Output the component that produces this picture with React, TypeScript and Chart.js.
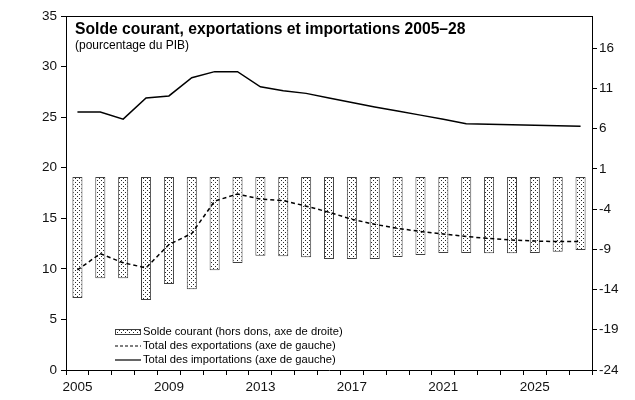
import React, { useEffect, useRef } from 'react';
import { Chart, registerables } from 'chart.js';

Chart.register(...registerables);

const years = ['2005', '2006', '2007', '2008', '2009', '2010', '2011', '2012', '2013', '2014', '2015', '2016', '2017', '2018', '2019', '2020', '2021', '2022', '2023', '2024', '2025', '2026', '2027'];
const xTickLabels = ['2005', '2009', '2013', '2017', '2021', '2025'];

const currentAccount = [-15.05, -12.6, -12.6, -15.3, -13.3, -13.95, -11.6, -10.7, -9.8, -9.85, -10.0, -10.2, -10.2, -10.2, -9.95, -9.7, -9.45, -9.45, -9.5, -9.5, -9.45, -9.3, -9.1];
const exportsData = [9.9, 11.5, 10.6, 10.1, 12.4, 13.5, 16.7, 17.4, 16.9, 16.75, 16.2, 15.6, 14.9, 14.4, 14.0, 13.7, 13.45, 13.2, 13.0, 12.85, 12.75, 12.7, 12.7];
const importsData = [25.5, 25.5, 24.8, 26.9, 27.1, 28.9, 29.5, 29.5, 28.0, 27.6, 27.35, 26.9, 26.45, 26.0, 25.6, 25.2, 24.8, 24.35, 24.3, 24.25, 24.2, 24.15, 24.1];

const leftTicks = [0, 5, 10, 15, 20, 25, 30, 35];
const rightTicks = [-24, -19, -14, -9, -4, 1, 6, 11, 16];

const titleText = 'Solde courant, exportations et importations 2005\u201328';
const subtitleText = '(pourcentage du PIB)';
const legendLabels = [
  'Solde courant (hors dons, axe de droite)',
  'Total des exportations (axe de gauche)',
  'Total des importations (axe de gauche)',
];

const FONT = '"Liberation Sans", Arial, sans-serif';

function makePattern(): CanvasPattern | string {
  const c = document.createElement('canvas');
  c.width = 4;
  c.height = 4;
  const g = c.getContext('2d');
  if (!g) return '#ddd';
  g.fillStyle = '#ffffff';
  g.fillRect(0, 0, 4, 4);
  g.fillStyle = '#2a2a2a';
  g.fillRect(1, 0, 1, 1);
  g.fillRect(3, 2, 1, 1);
  const p = g.createPattern(c, 'repeat');
  return p || '#ddd';
}

export default function App() {
  const ref = useRef<HTMLCanvasElement | null>(null);

  useEffect(() => {
    if (!ref.current) return;
    const pattern = makePattern();

    const overlay = {
      id: 'overlay',
      afterDatasetsDraw(chart: any) {
        const { ctx, chartArea: a } = chart;
        ctx.save();
        // top frame line
        ctx.strokeStyle = '#000';
        ctx.lineWidth = 1;
        ctx.beginPath();
        ctx.moveTo(a.left, Math.round(a.top) + 0.5);
        ctx.lineTo(a.right, Math.round(a.top) + 0.5);
        ctx.stroke();

        // title
        ctx.fillStyle = '#000';
        ctx.textBaseline = 'middle';
        ctx.textAlign = 'left';
        ctx.font = `bold 15.7px ${FONT}`;
        ctx.fillText(titleText, a.left + 9, a.top + 14);
        ctx.font = `12px ${FONT}`;
        ctx.fillText(subtitleText, a.left + 9, a.top + 30);

        // legend
        const lx = a.left + 49;
        const mw = 26;
        const rows = [a.bottom - 38, a.bottom - 24, a.bottom - 10];
        ctx.font = `11.2px ${FONT}`;
        // pattern box
        ctx.fillStyle = pattern as any;
        ctx.fillRect(lx, rows[0] - 3, mw, 6);
        ctx.strokeStyle = '#404040';
        ctx.lineWidth = 1;
        ctx.strokeRect(lx + 0.5, rows[0] - 2.5, mw - 1, 5);
        // dashed
        ctx.strokeStyle = '#000';
        ctx.lineWidth = 1.2;
        ctx.setLineDash([3, 2]);
        ctx.beginPath();
        ctx.moveTo(lx, rows[1]);
        ctx.lineTo(lx + mw, rows[1]);
        ctx.stroke();
        ctx.setLineDash([]);
        // solid
        ctx.beginPath();
        ctx.moveTo(lx, rows[2]);
        ctx.lineTo(lx + mw, rows[2]);
        ctx.stroke();
        ctx.fillStyle = '#000';
        legendLabels.forEach((t, i) => ctx.fillText(t, lx + mw + 2, rows[i]));
        ctx.restore();
      },
    };

    const chart = new Chart(ref.current, {
      type: 'bar',
      data: {
        labels: years,
        datasets: [
          {
            type: 'line',
            label: legendLabels[1],
            data: exportsData,
            yAxisID: 'y',
            borderColor: '#000',
            borderWidth: 1.5,
            borderDash: [4, 3],
            pointRadius: 0,
            tension: 0,
            fill: false,
            order: 1,
          } as any,
          {
            type: 'line',
            label: legendLabels[2],
            data: importsData,
            yAxisID: 'y',
            borderColor: '#000',
            borderWidth: 1.5,
            pointRadius: 0,
            tension: 0,
            fill: false,
            order: 1,
          } as any,
          {
            type: 'bar',
            label: legendLabels[0],
            data: currentAccount,
            yAxisID: 'y2',
            backgroundColor: pattern as any,
            borderColor: '#404040',
            borderWidth: 1,
            borderSkipped: false,
            barPercentage: 0.44,
            categoryPercentage: 1,
            order: 2,
          } as any,
        ],
      },
      options: {
        responsive: false,
        animation: false,
        layout: { padding: { top: 16, left: 0, right: 0, bottom: 0 } },
        plugins: {
          legend: { display: false },
          tooltip: { enabled: false },
          title: { display: false },
        },
        scales: {
          x: {
            type: 'category',
            offset: true,
            grid: { offset: true, drawOnChartArea: false, color: '#000', tickLength: 5 },
            border: { color: '#000', width: 1 },
            ticks: {
              autoSkip: false,
              maxRotation: 0,
              minRotation: 0,
              padding: 4,
              color: '#111',
              font: { family: FONT, size: 13.5 },
              callback: (_v: any, i: number) => (xTickLabels.includes(years[i]) ? years[i] : ''),
            },
            afterFit: (s: any) => {
              s.height = 30;
            },
          },
          y: {
            position: 'left',
            min: 0,
            max: 35,
            grid: { drawOnChartArea: false, color: '#000', tickLength: 5 },
            border: { color: '#000', width: 1 },
            ticks: {
              stepSize: 5,
              padding: 4,
              color: '#111',
              font: { family: FONT, size: 13.5 },
            },
            afterBuildTicks: (s: any) => {
              s.ticks = leftTicks.map((v) => ({ value: v }));
            },
            afterFit: (s: any) => {
              s.width = 66;
            },
          },
          y2: {
            position: 'right',
            min: -24,
            max: 20,
            grid: { drawOnChartArea: false, color: '#000', tickLength: 5 },
            border: { color: '#000', width: 1 },
            ticks: {
              padding: 2,
              color: '#111',
              font: { family: FONT, size: 13.5 },
            },
            afterBuildTicks: (s: any) => {
              s.ticks = rightTicks.map((v) => ({ value: v }));
            },
            afterFit: (s: any) => {
              s.width = 43;
            },
          },
        },
      },
      plugins: [overlay],
    });

    return () => chart.destroy();
  }, []);

  return (
    <div style={{ position: 'fixed', left: 0, top: 0, width: 635, height: 400, background: '#fff' }}>
      <canvas ref={ref} width={635} height={400} style={{ width: 635, height: 400, display: 'block' }} />
    </div>
  );
}
